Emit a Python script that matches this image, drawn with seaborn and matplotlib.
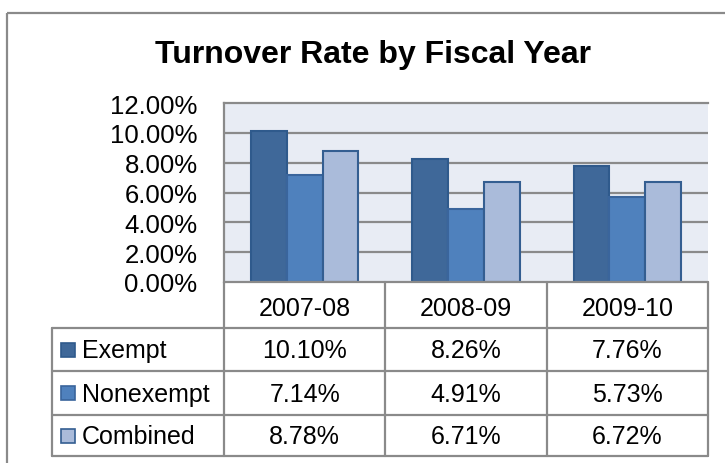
"""
Turnover rate by fiscal year - bar chart with data table
"""

import pandas as pd
import matplotlib
matplotlib.use('Agg')
import matplotlib.pyplot as plt
import seaborn as sns
from matplotlib.ticker import FuncFormatter

# Dados
years = ['2007-08', '2008-09', '2009-10']
groups = ['Exempt', 'Nonexempt', 'Combined']
exempt = [10.10, 8.26, 7.76]
nonexempt = [7.14, 4.91, 5.73]
combined = [8.78, 6.71, 6.72]

series = {'Exempt': exempt, 'Nonexempt': nonexempt, 'Combined': combined}
df = pd.DataFrame([(y, g, series[g][i]) for g in groups for i, y in enumerate(years)],
                  columns=['year', 'group', 'rate'])

fills = ['#3F6899', '#4F81BD', '#AABBDA']
edges = ['#2F5A8C', '#3A659C', '#345E91']
line_gray = '#8A8A8A'

sns.set_style('white')
plt.rcParams['font.family'] = ['Liberation Sans', 'DejaVu Sans']
plt.rcParams['text.color'] = 'black'
plt.rcParams['ytick.color'] = 'black'

W, H = 725, 464
fig = plt.figure(figsize=(W / 100, H / 100), dpi=100)

# eixo do gráfico (em pixels: x 224..708, y 104..283)
px_l, px_r, px_t, px_b = 224, 708, 104, 283
ax = fig.add_axes([px_l / W, 1 - px_b / H, (px_r - px_l) / W, (px_b - px_t) / H])
ax.set_facecolor('#E8ECF4')

sns.barplot(data=df, x='year', y='rate', hue='group', hue_order=groups,
            order=years, palette=fills, saturation=1, width=0.665, legend=False,
            linewidth=1.5, edgecolor=edges[2], ax=ax, zorder=3)
for i, cont in enumerate(ax.containers):
    for bar in cont:
        bar.set_edgecolor(edges[i])

ax.set_ylim(0, 12)
ax.set_xlim(-0.5, len(years) - 0.5)
ax.set_yticks(range(0, 13, 2))
ax.yaxis.set_major_formatter(FuncFormatter(lambda v, p: f'{v:.2f}%'))
ax.tick_params(axis='y', labelsize=18.5, length=0, pad=19, labelcolor='black')
ax.set_xticks([])
ax.set_xlabel('')
ax.set_ylabel('')
for v in range(2, 12, 2):
    ax.axhline(v, color=line_gray, lw=1.6, zorder=1)
for s in ['right', 'bottom']:
    ax.spines[s].set_visible(False)
for s in ['top', 'left']:
    ax.spines[s].set_color(line_gray)
    ax.spines[s].set_linewidth(1.6)

# camada em pixels para tabela, título e moldura
ov = fig.add_axes([0, 0, 1, 1], zorder=5)
ov.set_xlim(0, W)
ov.set_ylim(H, 0)
ov.axis('off')
ov.patch.set_alpha(0)

# moldura externa
ov.plot([7, W + 5], [14, 14], color=line_gray, lw=1.6, solid_capstyle='butt')
ov.plot([7, 7], [14, H + 5], color=line_gray, lw=1.6, solid_capstyle='butt')

ov.text(373, 55, 'Turnover Rate by Fiscal Year', ha='center', va='center',
        fontsize=23, fontweight='bold', color='black')

# tabela de dados
col_w = (px_r - px_l) / len(years)
tab_left = 52
rows_y = [283, 329, 372, 416, 457]
col_x = [px_l + i * col_w for i in range(len(years) + 1)]

for x in col_x:
    ov.plot([x, x], [rows_y[0], rows_y[-1]], color=line_gray, lw=1.6)
ov.plot([tab_left, tab_left], [rows_y[1], rows_y[-1]], color=line_gray, lw=1.6)
ov.plot([px_l, px_r], [rows_y[0], rows_y[0]], color=line_gray, lw=1.6)
for y in rows_y[1:]:
    ov.plot([tab_left, px_r], [y, y], color=line_gray, lw=1.6)

for i, yr in enumerate(years):
    ov.text(px_l + col_w * (i + 0.5), (rows_y[0] + rows_y[1]) / 2 + 3, yr,
            ha='center', va='center', fontsize=18, color='black')

for r, g in enumerate(groups):
    yc = (rows_y[r + 1] + rows_y[r + 2]) / 2 + 1
    ov.add_patch(plt.Rectangle((61, yc - 8), 14, 14, facecolor=fills[r],
                               edgecolor=edges[r], lw=1.2))
    ov.text(82, yc, g, ha='left', va='center', fontsize=18, color='black')
    for i in range(len(years)):
        ov.text(px_l + col_w * (i + 0.5), yc, f'{series[g][i]:.2f}%',
                ha='center', va='center', fontsize=18, color='black')

fig.savefig('out.png', dpi=100)
